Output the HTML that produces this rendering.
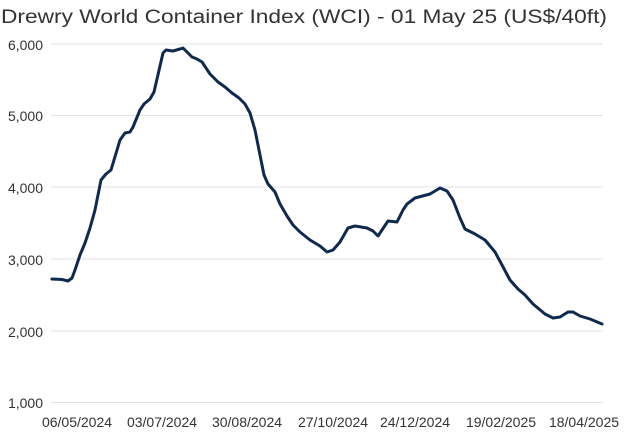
<!DOCTYPE html>
<html><head><style>body{margin:0;background:#fff}svg{display:block}</style></head><body>
<svg width="625" height="437" xmlns="http://www.w3.org/2000/svg" font-family="Liberation Sans, sans-serif">
<text x="1" y="23" font-size="19.6" fill="#333" textLength="606" lengthAdjust="spacingAndGlyphs">Drewry World Container Index (WCI) - 01 May 25 (US$/40ft)</text>
<g stroke="#e2e2e2" stroke-width="1">
<line x1="51" y1="44" x2="603" y2="44"/><line x1="51" y1="115.5" x2="603" y2="115.5"/>
<line x1="51" y1="187" x2="603" y2="187"/><line x1="51" y1="259" x2="603" y2="259"/>
<line x1="51" y1="331" x2="603" y2="331"/><line x1="51" y1="402.5" x2="603" y2="402.5"/>
</g>
<g font-size="14" fill="#333" text-anchor="end">
<text x="43" y="50">6,000</text><text x="43" y="121">5,000</text><text x="43" y="193">4,000</text>
<text x="43" y="265">3,000</text><text x="43" y="337">2,000</text><text x="43" y="408">1,000</text>
</g>
<g font-size="14" fill="#333" text-anchor="middle">
<text x="77" y="427">06/05/2024</text><text x="162" y="427">03/07/2024</text><text x="247" y="427">30/08/2024</text>
<text x="333" y="427">27/10/2024</text><text x="415" y="427">24/12/2024</text><text x="501" y="427">19/02/2025</text><text x="584" y="427">18/04/2025</text>
</g>
<polyline fill="none" stroke="#0e2a4f" stroke-width="3" stroke-linejoin="round" stroke-linecap="round" points="52,279 62,279.5 68,281 72,278 75,270 80,255 85,243 90,228 95,210 101,180 106,174 111,170 114,160 120,140 125,133 130,132 133,127 140,110 144,104 150,99 154,92 160,66 163,53 166,50 173,51 180,49 183,48 187,52 192,57 197,59 202,62 210,74 218,82 225,87 232,93 239,98 245,104 250,113 255,130 259,150 264,175 268,184 275,192 280,204 287,216 293,225 300,232 310,240 320,246 327,252 333,250 340,242 348,228 355,226 367,228 373,231 378,236 384,227 388,221 397,222 403,210 407,204 415,198 430,194 440,188 447,191 453,200 460,218 465,229 475,234 485,240 495,252 502,265 510,280 518,289 525,295 533,304 545,314 553,318 560,317 568,312 573,312 580,316 590,319 602,324"/>
</svg>
</body></html>
